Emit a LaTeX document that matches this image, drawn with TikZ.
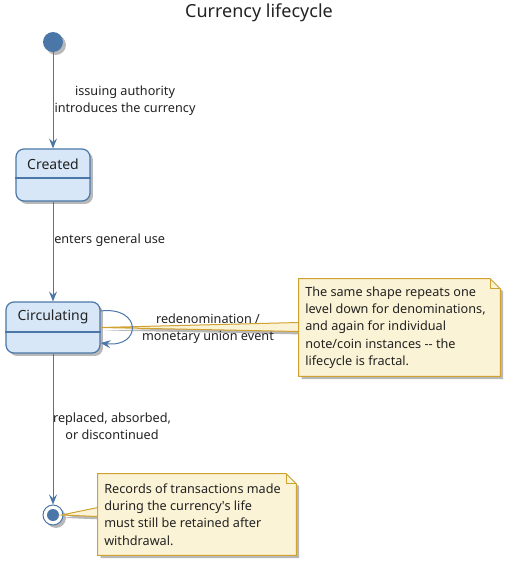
\documentclass[tikz,border=0pt]{standalone}
\usepackage{fontspec}
\setmainfont{Noto Sans}
\usetikzlibrary{shadows,arrows.meta,calc}
\definecolor{stfill}{HTML}{D8E7F8}
\definecolor{stline}{HTML}{4A77A8}
\definecolor{notefill}{HTML}{FBF3D6}
\definecolor{noteline}{HTML}{D0A232}
\definecolor{txt}{HTML}{222222}
\begin{document}
\begin{tikzpicture}[x=0.75pt,y=-0.75pt,
  font=\fontsize{9.5}{13}\selectfont, text=txt,
  shadowed/.style={drop shadow={shadow xshift=2.2pt,shadow yshift=-2.2pt,opacity=0.28,fill=black}},
  state/.style={rectangle,rounded corners=6pt,draw=stline,line width=0.9pt,fill=stfill,inner sep=0pt,shadowed},
  statename/.style={inner sep=0pt,font=\fontsize{10.5}{13}\selectfont},
  conn/.style={draw=stline,line width=0.75pt,-{Stealth[length=7.5pt,width=6pt,inset=2.8pt]}},
  notebox/.style={fill=notefill,draw=noteline,line width=0.75pt,line join=miter,shadowed},
  lbl/.style={align=center,inner sep=0pt},
  notetext/.style={align=left,inner sep=0pt,anchor=west}
]
\useasboundingbox (0,0) rectangle (512,565);

\node[font=\fontsize{13.5}{16}\selectfont] (title) at (259,13) {Currency lifecycle};

% start
\node[circle,fill=stline,minimum size=15pt,inner sep=0pt,shadowed] (start) at (53,42) {};

% Created
\node[state,minimum width=55.5pt,minimum height=39pt] (created) at (53,175) {};
\node[statename] (createdlbl) at (53,164) {Created};
\draw[stline,line width=0.9pt] ($(created.west)+(0,3)$) -- ($(created.east)+(0,3)$);

% Circulating
\node[state,minimum width=70.5pt,minimum height=38.25pt] (circ) at (53,327.5) {};
\node[statename] (circlbl) at (53,317) {Circulating};
\draw[stline,line width=0.9pt] ($(circ.west)+(0,4.5)$) -- ($(circ.east)+(0,4.5)$);

% end
\node[circle,draw=stline,fill=white,line width=0.75pt,minimum size=15pt,inner sep=0pt,shadowed] (end) at (53,515) {};
\node[circle,fill=stline,minimum size=9pt,inner sep=0pt] (endin) at (end) {};

% transitions
\draw[conn] (start) -- (created);
\node[lbl] (l1) at (125,101) {issuing authority\\introduces the currency};
\draw[conn] (created) -- (circ);
\node[lbl,anchor=west] (l2) at (54,240) {enters general use};
\draw[conn] (circ) -- (end);
\node[lbl] (l4) at (112,426) {replaced, absorbed,\\or discontinued};

% note 1
\node[minimum width=150.75pt,minimum height=72.75pt,inner sep=0pt] (note1) at (399.5,327.5) {};
\path[notebox] ($(circ.east)+(0,0)$) -- ($(note1.west)+(0,-5)$) -- ($(note1.west)+(0,4)$) -- cycle;
\path[notebox] (note1.north west) -- ($(note1.north east)+(-10,0)$) -- ($(note1.north east)+(0,10)$) -- (note1.south east) -- (note1.south west) -- cycle;
\draw[noteline,line width=0.75pt,line join=miter] ($(note1.north east)+(-10,0)$) -- ($(note1.north east)+(-10,10)$) -- ($(note1.north east)+(0,10)$);
\node[notetext] (n1t) at (305,327.5) {The same shape repeats one\\level down for denominations,\\and again for individual\\note/coin instances -{}- the\\lifecycle is fractal.};

% self loop
\draw[conn] ($(circ.east)+(0,-16.5)$) .. controls (142,306) and (142,348) .. ($(circ.east)+(0,15.5)$);
\node[lbl] (l3) at (208,328.5) {redenomination /\\monetary union event};

% note 2
\node[minimum width=148.5pt,minimum height=60.75pt,inner sep=0pt] (note2) at (197,514.5) {};
\path[notebox] ($(end.east)+(-2,0)$) -- ($(note2.west)+(0,-7)$) -- ($(note2.west)+(0,2)$) -- cycle;
\path[notebox] (note2.north west) -- ($(note2.north east)+(-10,0)$) -- ($(note2.north east)+(0,10)$) -- (note2.south east) -- (note2.south west) -- cycle;
\draw[noteline,line width=0.75pt,line join=miter] ($(note2.north east)+(-10,0)$) -- ($(note2.north east)+(-10,10)$) -- ($(note2.north east)+(0,10)$);
\node[notetext] (n2t) at (104,514.5) {Records of transactions made\\during the currency\textquotesingle s life\\must still be retained after\\withdrawal.};
\end{tikzpicture}
\end{document}
